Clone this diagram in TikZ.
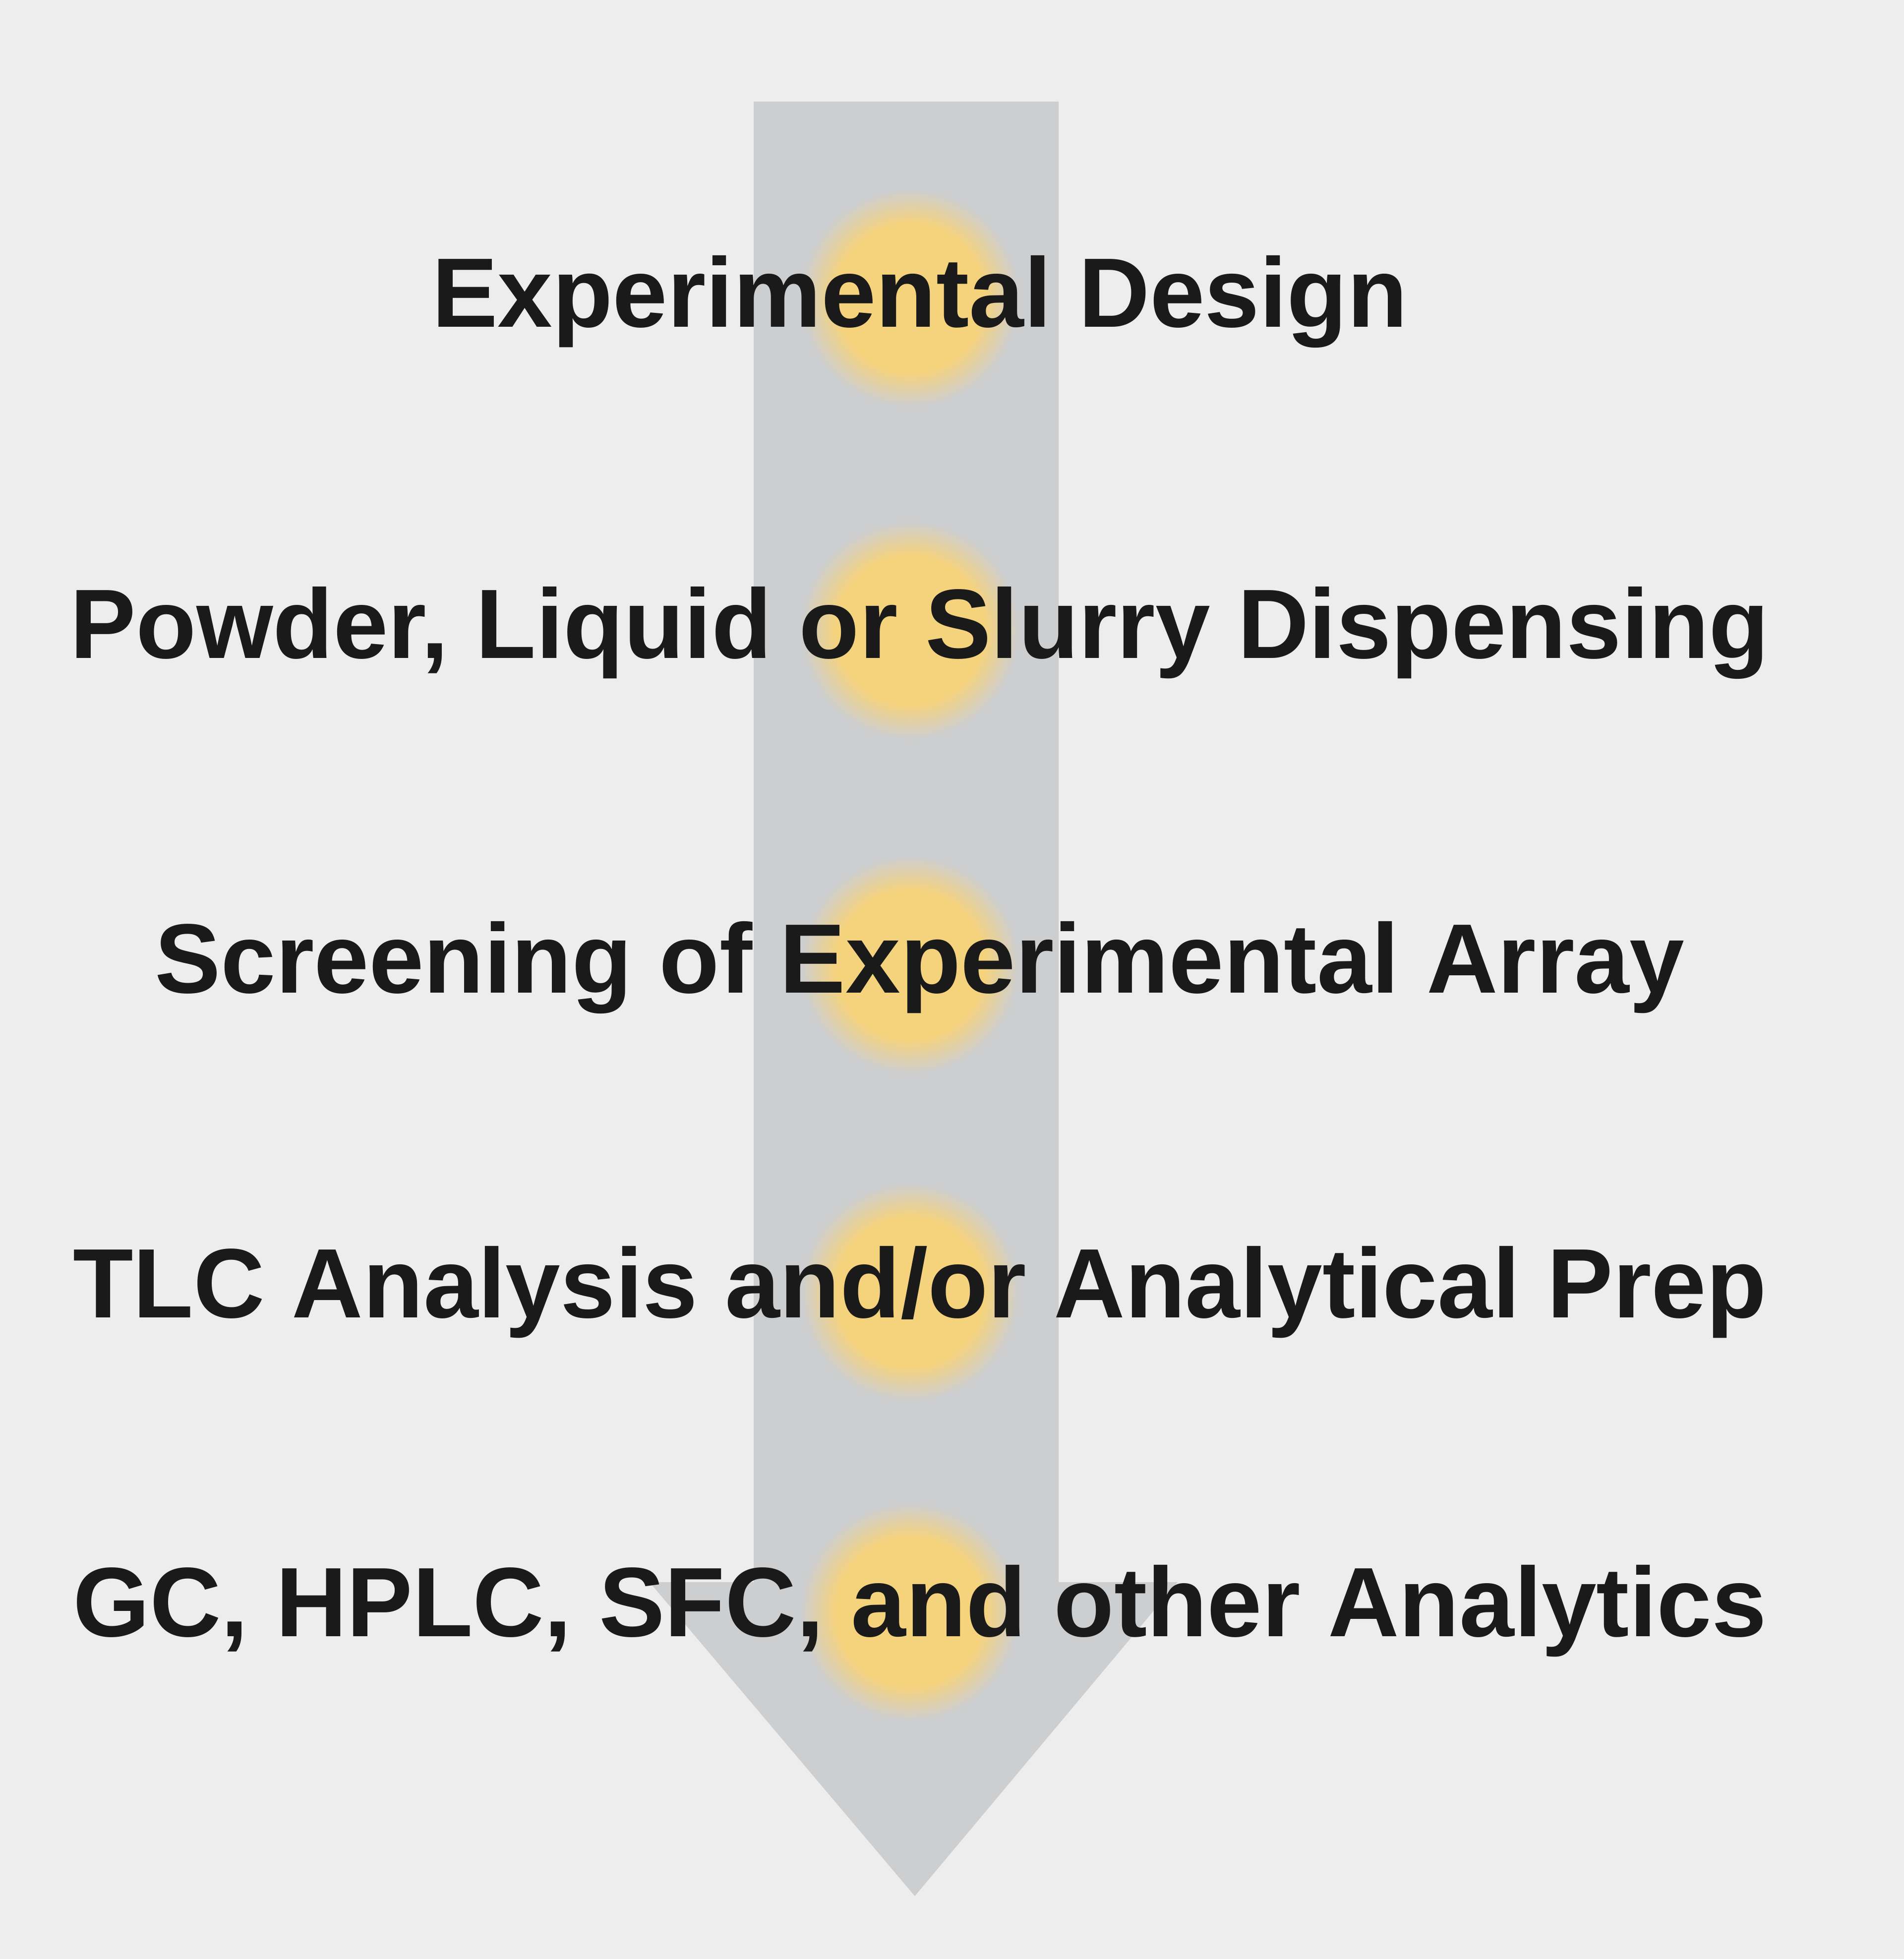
\documentclass[tikz,border=0pt]{standalone}
\usepackage{fontspec}
\setmainfont{Liberation Sans}
\definecolor{paper}{HTML}{ECEDEC}
\definecolor{shaft}{HTML}{CDCED0}
\definecolor{spot}{HTML}{F5D27C}
\definecolor{ink}{HTML}{1A1A1A}
\pgfdeclareradialshading{glow}{\pgfpoint{0cm}{0cm}}{color(0bp)=(spot); color(17bp)=(spot); color(25bp)=(shaft); color(50bp)=(shaft)}
\tikzstyle{spotdot}=[circle, inner sep=0pt, minimum size=4.4cm, shading=glow]
\tikzstyle{stage}=[anchor=base, inner sep=0pt, text=ink, font=\fontsize{56.6}{60}\selectfont\bfseries]
\newcommand{\spotdot}{\node[spotdot]}
\newcommand{\stage}{\node[stage]}

\begin{document}
\begin{tikzpicture}
\useasboundingbox (0,0) rectangle (38.40,39.51);
\fill[paper] (0,0) rectangle (38.40,39.51);
% arrow
\fill[shaft] (15.20,37.46) -- (21.35,37.46) -- (21.35,7.60) -- (23.75,7.60)
  -- (18.45,1.27) -- (13.10,7.60) -- (15.20,7.60) -- cycle;
\spotdot (c1) at (18.35,33.50) {};
\spotdot (c2) at (18.35,26.80) {};
\spotdot (c3) at (18.35,20.05) {};
\spotdot (c4) at (18.35,13.45) {};
\spotdot (c5) at (18.35,7.00) {};
\stage (t1) at (18.55,32.91) {Experimental Design};
\stage (t2) at (18.55,26.23) {Powder, Liquid or Slurry Dispensing};
\stage (t3) at (18.55,19.48) {Screening of Experimental Array};
\stage (t4) at (18.55,12.93) {TLC Analysis and/or Analytical Prep};
\stage (t5) at (18.55,6.50) {GC, HPLC, SFC, and other Analytics};
\end{tikzpicture}
\end{document}
